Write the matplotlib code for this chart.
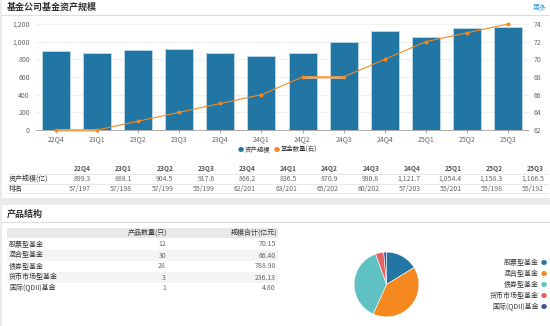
import numpy as np
import matplotlib
matplotlib.use('Agg')
import matplotlib.pyplot as plt
from matplotlib.patches import Rectangle

plt.rcParams['font.family'] = ['Noto Sans CJK SC', 'DejaVu Sans']

quarters = ['22Q4', '23Q1', '23Q2', '23Q3', '23Q4', '24Q1',
            '24Q2', '24Q3', '24Q4', '25Q1', '25Q2', '25Q3']
assets = [899.3, 868.1, 904.5, 917.6, 866.2, 836.5,
          870.9, 990.8, 1121.7, 1054.4, 1158.3, 1166.5]
fund_count = [62, 62, 63, 64, 65, 66, 68, 68, 70, 72, 73, 74]
ranks = ['57/197', '57/198', '57/199', '55/199', '62/201', '63/201',
         '65/202', '60/202', '57/203', '55/201', '55/198', '55/192']

types = ['股票型基金', '混合型基金', '债券型基金', '货币市场型基金', '国际(QDII)基金']
type_count = [12, 30, 28, 3, 1]
type_scale = [70.15, 66.40, 788.98, 236.13, 4.80]
pie_colors = ['#2176a3', '#f5891f', '#5fc1c1', '#e56364', '#3d5394']

W, H = 550, 326
BLUE = '#2176a3'
ORANGE = '#f5891f'
TXT = '#333333'
GRAY = '#666666'


def box(x, y, w, h):
    # pixel box (top-left origin) -> figure fraction
    return [x / W, 1 - (y + h) / H, w / W, h / H]


def fx(x):
    return x / W


def fy(y):
    return 1 - y / H


def rect(x, y, w, h, color):
    fig.patches.append(Rectangle((fx(x), fy(y + h)), w / W, h / H, transform=fig.transFigure,
                                 facecolor=color, edgecolor='none', zorder=-5))


fig = plt.figure(figsize=(5.5, 3.26), dpi=100, facecolor='#ebebeb')

# white panels
rect(2, 0, 548, 198, 'white')
rect(2, 205, 548, 121, 'white')

# header lines
for yy in (15, 222):
    fig.add_artist(plt.Line2D([fx(2), fx(550)], [fy(yy), fy(yy)], color='#dddddd', lw=0.8))

fig.text(fx(7), fy(7), '基金公司基金资产规模', fontsize=6.5, fontweight='bold',
         color=TXT, va='center')
fig.text(fx(547), fy(7), '更多', fontsize=5, color='#3a9bd0', va='center', ha='right')
fig.text(fx(7), fy(214), '产品结构', fontsize=6.5, fontweight='bold', color=TXT, va='center')

# bar + line chart
ax = fig.add_axes(box(35.5, 24, 493, 106))
ax.patch.set_alpha(0)
x = np.arange(len(quarters))
ax.bar(x, assets, width=0.68, color=BLUE, edgecolor='#b5d6e6', linewidth=0.7, zorder=2)
ax.set_xlim(-0.5, len(quarters) - 0.5)
ax.set_ylim(0, 1200)
ax.set_yticks(np.arange(0, 1201, 200))
ax.set_yticklabels(['{:,}'.format(v) for v in range(0, 1201, 200)])
ax.set_xticks(x)
ax.set_xticklabels(quarters)
ax.grid(axis='y', color='#eeeeee', lw=0.6, zorder=0)
for s in ('top', 'right', 'left'):
    ax.spines[s].set_visible(False)
ax.spines['bottom'].set_color('#aaaaaa')
ax.spines['bottom'].set_linewidth(0.7)
ax.tick_params(axis='both', labelsize=5, colors=GRAY, length=0, pad=4)
ax.tick_params(axis='x', length=2, color='#aaaaaa', pad=1.5)

ax2 = ax.twinx()
ax2.set_ylim(62, 74)
ax2.set_yticks(np.arange(62, 75, 2))
for s in ax2.spines.values():
    s.set_visible(False)
ax2.tick_params(axis='y', labelsize=5, colors=GRAY, length=0, pad=4)
# flat stretches drawn a bit thicker and lighter
for i in range(len(fund_count) - 1):
    if fund_count[i] == fund_count[i + 1]:
        ax2.plot([x[i], x[i + 1]], [fund_count[i], fund_count[i + 1]],
                 color='#f8c08c', lw=1.8, solid_capstyle='butt', zorder=3, clip_on=False)
ax2.plot(x, fund_count, color=ORANGE, lw=0.8, marker='o', markersize=1.8,
         zorder=4, clip_on=False)

# legend
fig.text(fx(241), fy(150), '●', color=BLUE, fontsize=4.5, ha='center', va='center')
fig.text(fx(245), fy(150), '资产规模', color=TXT, fontsize=4.6, va='center')
fig.text(fx(277), fy(150), '●', color=ORANGE, fontsize=4.5, ha='center', va='center')
fig.text(fx(281), fy(150), '基金数量(右)', color=TXT, fontsize=4.6, va='center')

# quarterly table
for yy in (174, 184, 193):
    fig.add_artist(plt.Line2D([fx(7), fx(548)], [fy(yy), fy(yy)], color='#e3e3e3', lw=0.6))
fig.text(fx(9), fy(179), '资产规模(亿)', fontsize=5, color=TXT, va='center')
fig.text(fx(9), fy(188.5), '排名', fontsize=5, color=TXT, va='center')
for i, q in enumerate(quarters):
    xr = fx(91 + 41.2 * i)
    fig.text(xr, fy(168), q, fontsize=4.8, fontweight='bold', color='#555555',
             ha='right', va='center')
    fig.text(xr, fy(179), '{:,.1f}'.format(assets[i]), fontsize=5, color=GRAY,
             ha='right', va='center')
    fig.text(xr, fy(188.5), ranks[i], fontsize=5, color=GRAY, ha='right', va='center')

# product table
rect(7, 228, 271, 10, '#e9e9e9')
for r in (1, 3):
    rect(7, 239 + 11 * r, 271, 11, '#f4f4f4')
fig.text(fx(167), fy(233), '产品数量(只)', fontsize=5, color=TXT, ha='right', va='center')
fig.text(fx(277), fy(233), '规模合计(亿元)', fontsize=5, color=TXT, ha='right', va='center')
for i, t in enumerate(types):
    yy = fy(244.5 + 11 * i)
    fig.text(fx(9), yy, t, fontsize=5, color=TXT, va='center')
    fig.text(fx(166), yy, str(type_count[i]), fontsize=5, color=GRAY, ha='right', va='center')
    fig.text(fx(276), yy, '{:.2f}'.format(type_scale[i]), fontsize=5, color=GRAY,
             ha='right', va='center')

# pie
pax = fig.add_axes(box(346, 244, 81, 81))
pax.pie(type_count, colors=pie_colors, startangle=90, counterclock=False,
        wedgeprops=dict(edgecolor='white', linewidth=0.4))
pax.set_aspect('equal')

for i, t in enumerate(types):
    yy = fy(263 + 11.1 * i)
    fig.text(fx(539), yy, t, fontsize=5, color=TXT, ha='right', va='center')
    fig.text(fx(544), yy, '●', fontsize=4.5, color=pie_colors[i], ha='center', va='center')

fig.savefig('out.png', dpi=100, facecolor=fig.get_facecolor())
